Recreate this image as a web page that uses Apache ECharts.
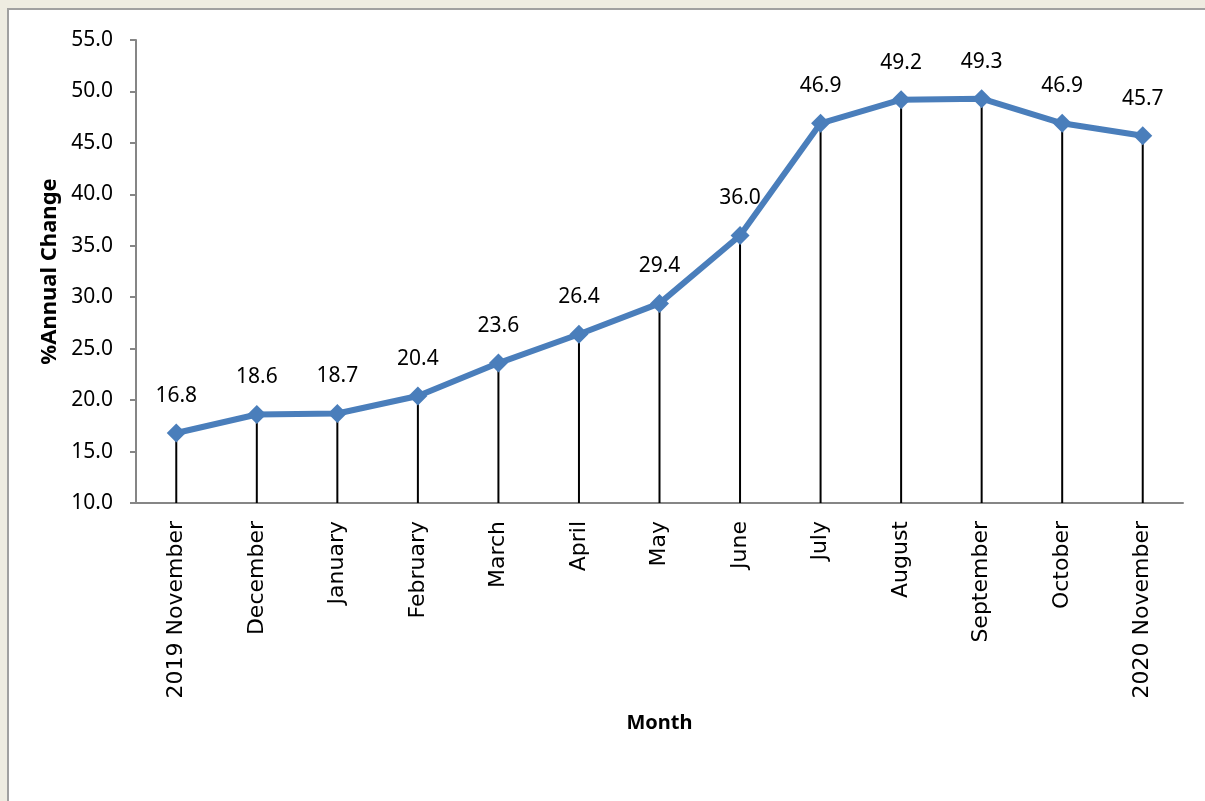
<!DOCTYPE html>
<html><head><meta charset="utf-8">
<script src="https://cdn.jsdelivr.net/npm/echarts@6/dist/echarts.min.js"></script>
<style>html,body{margin:0;padding:0;background:#EEECE1;}#c{width:1205px;height:801px;}</style>
</head><body><div id="c"></div>
<script>
const categories = ['2019 November','December','January','February','March','April','May','June','July','August','September','October','2020 November'];
const values = [16.8, 18.6, 18.7, 20.4, 23.6, 26.4, 29.4, 36.0, 46.9, 49.2, 49.3, 46.9, 45.7];
const yMin = 10, yMax = 55, yStep = 5;

const chart = echarts.init(document.getElementById('c'), null, {renderer:'canvas'});
chart.setOption({
  backgroundColor: '#EEECE1',
  animation: false,
  graphic: [{
    type: 'rect', left: 7, top: 8, z: -10,
    shape: {x: 0, y: 0, width: 1220, height: 820},
    style: {fill: '#FFFFFF', stroke: '#A0A0A0', lineWidth: 2}
  }],
  grid: {left: 136, right: 22, top: 40, bottom: 298, containLabel: false},
  xAxis: {
    type: 'category', data: categories, boundaryGap: true,
    name: 'Month', nameLocation: 'middle', nameGap: 210,
    nameTextStyle: {fontFamily: 'Noto Sans', fontWeight: 'bold', fontSize: 20, color: '#000'},
    axisLine: {lineStyle: {color: '#868686', width: 2}},
    axisTick: {show: false},
    axisLabel: {rotate: 90, margin: 18, fontFamily: 'DejaVu Sans', fontSize: 22, color: '#000', interval: 0}
  },
  yAxis: {
    type: 'value', min: yMin, max: yMax, interval: yStep,
    name: '%Annual Change', nameLocation: 'middle', nameGap: 68, nameRotate: 90,
    nameTextStyle: {fontFamily: 'Noto Sans', fontWeight: 'bold', fontSize: 22, color: '#000'},
    axisLine: {show: true, lineStyle: {color: '#868686', width: 2}},
    axisTick: {show: true, length: 6, lineStyle: {color: '#868686', width: 2}},
    splitLine: {show: false},
    axisLabel: {margin: 23, fontFamily: 'Noto Sans', fontSize: 21, color: '#000', formatter: v => v.toFixed(1)}
  },
  series: [{
    type: 'bar', data: values, barWidth: 2, clip: true, z: 1,
    itemStyle: {color: '#000'}, silent: true
  }, {
    type: 'line', data: values, z: 3,
    symbol: 'diamond', symbolSize: 19,
    lineStyle: {color: '#4A7EBB', width: 6},
    itemStyle: {color: '#4A7EBB'},
    label: {show: true, position: 'top', distance: 17, fontFamily: 'Noto Sans', fontSize: 21, lineHeight: 21, color: '#000',
            formatter: p => p.value.toFixed(1)}
  }]
});
</script></body></html>
